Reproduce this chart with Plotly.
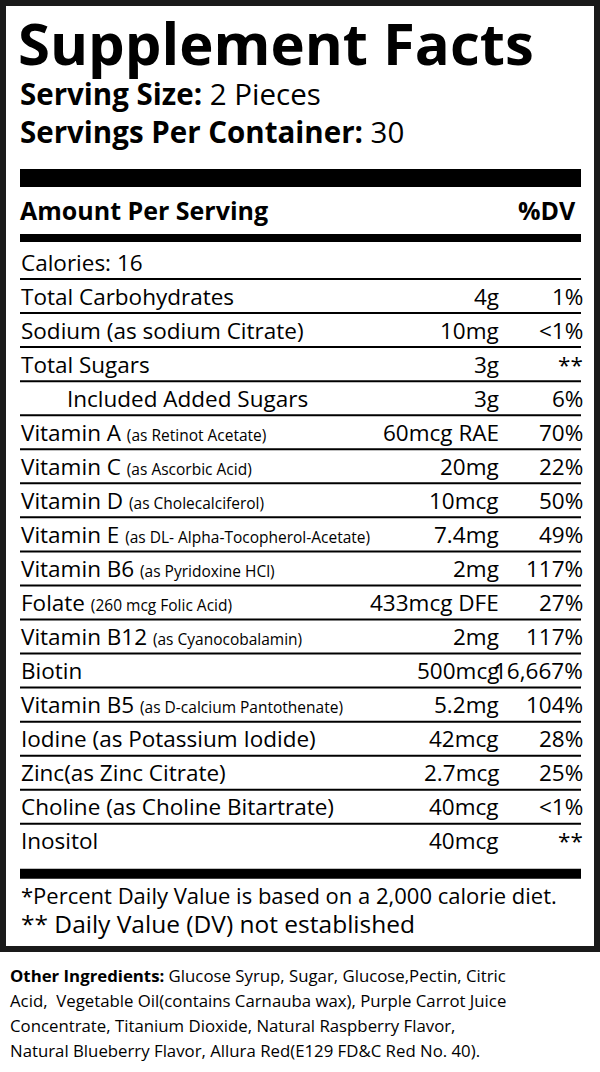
import plotly.graph_objects as go

# label data
names = ["Total Carbohydrates", "Sodium (as sodium Citrate)", "Total Sugars", "Included Added Sugars",
         "Vitamin A", "Vitamin C", "Vitamin D", "Vitamin E", "Vitamin B6", "Folate", "Vitamin B12",
         "Biotin", "Vitamin B5", "Iodine (as Potassium Iodide)", "Zinc(as Zinc Citrate)",
         "Choline (as Choline Bitartrate)", "Inositol"]
notes = ["", "", "", "", "(as Retinot Acetate)", "(as Ascorbic Acid)", "(as Cholecalciferol)",
         "(as DL- Alpha-Tocopherol-Acetate)", "(as Pyridoxine HCl)", "(260 mcg Folic Acid)",
         "(as Cyanocobalamin)", "", "(as D-calcium Pantothenate)", "", "", "", ""]
amounts = ["4g", "10mg", "3g", "3g", "60mcg RAE", "20mg", "10mcg", "7.4mg", "2mg", "433mcg DFE",
           "2mg", "500mcg", "5.2mg", "42mcg", "2.7mcg", "40mcg", "40mcg"]
dvs = ["1%", "<1%", "**", "6%", "70%", "22%", "50%", "49%", "117%", "27%", "117%", "16,667%",
       "104%", "28%", "25%", "<1%", "**"]
indent = [0, 0, 0, 1, 0, 0, 0, 0, 0, 0, 0, 0, 0, 0, 0, 0, 0]

other = ["<b>Other Ingredients:</b> Glucose Syrup, Sugar, Glucose,Pectin, Citric",
         "Acid,  Vegetable Oil(contains Carnauba wax), Purple Carrot Juice",
         "Concentrate, Titanium Dioxide, Natural Raspberry Flavor,",
         "Natural Blueberry Flavor, Allura Red(E129 FD&C Red No. 40)."]

FONT = "Open Sans"
fig = go.Figure()
shapes, ann = [], []

def txt(x, y, s, size, anchor="left", bold=False):
    ann.append(dict(x=x, y=y, text=("<b>%s</b>" % s) if bold else s, showarrow=False,
                    xanchor=anchor, yanchor="middle", font=dict(family=FONT, size=size, color="black")))

def bar(y0, y1, x0=20, x1=581):
    shapes.append(dict(type="rect", x0=x0, x1=x1, y0=y0, y1=y1, fillcolor="black", line_width=0))

# outer frame
shapes.append(dict(type="rect", x0=3, x1=597, y0=3, y1=949, line=dict(color="#1a1a1a", width=6)))

txt(16, 42, "Supplement Facts", 58, bold=True)
txt(18, 93, "<b>Serving Size:</b> 2 Pieces", 29.5)
txt(18, 131, "<b>Servings Per Container:</b> 30", 29.5)

bar(169, 187)
txt(18, 210, "Amount Per Serving", 25, bold=True)
txt(578, 210, "%DV", 25, anchor="right", bold=True)
bar(234, 242)
txt(19, 262, "Calories: 16", 22.5)

y0, step = 296, 34.05
for i, n in enumerate(names):
    y = y0 + i * step
    label = n
    if notes[i]:
        label += " <span style='font-size:15.5px'>%s</span>" % notes[i]
    txt(19 + indent[i] * 46, y, label, 22.5)
    txt(501, y, amounts[i], 22.5, anchor="right")
    txt(585, y, dvs[i], 22.5, anchor="right")
    ly = y - 17
    shapes.append(dict(type="line", x0=20, x1=581, y0=ly, y1=ly, line=dict(color="black", width=2)))

ylast = y0 + len(names) * step - 17
bar(ylast + 11, ylast + 21)
txt(19, 895, "*Percent Daily Value is based on a 2,000 calorie diet.", 22)
txt(19, 923, "** Daily Value (DV) not established", 24.5)

for i, line in enumerate(other):
    txt(8, 975 + i * 25.3, line, 16.8)

fig.update_layout(width=600, height=1072, margin=dict(l=0, r=0, t=0, b=0),
                  plot_bgcolor="white", paper_bgcolor="white", shapes=shapes, annotations=ann,
                  xaxis=dict(range=[0, 600], visible=False, fixedrange=True),
                  yaxis=dict(range=[1072, 0], visible=False, fixedrange=True),
                  showlegend=False)
fig.write_html("out.html", config={"displayModeBar": False},
               post_script="document.body.style.margin='0';")
